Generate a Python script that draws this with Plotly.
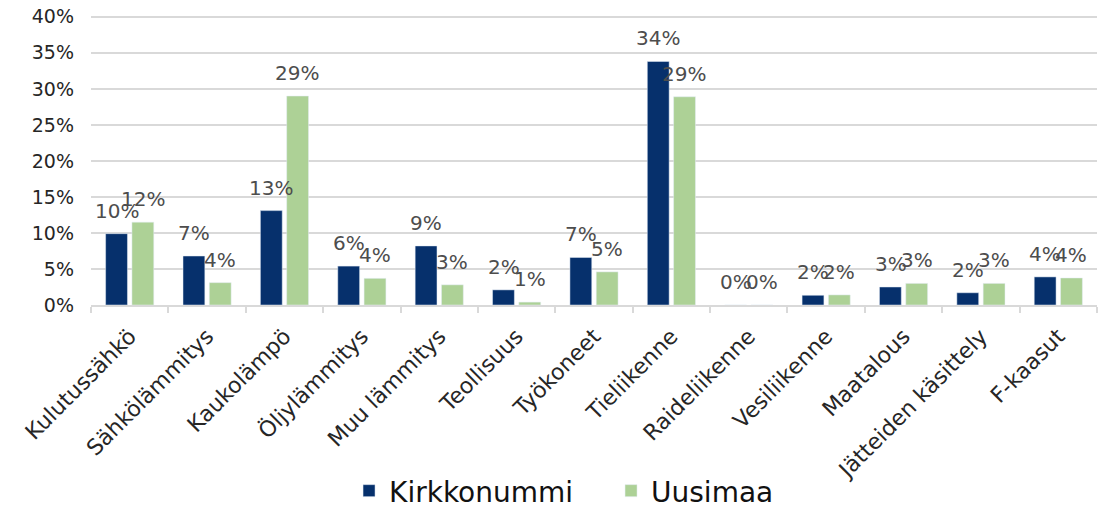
import plotly.graph_objects as go

categories = [
    "Kulutussähkö", "Sähkölämmitys", "Kaukolämpö", "Öljylämmitys",
    "Muu lämmitys", "Teollisuus", "Työkoneet", "Tieliikenne",
    "Raideliikenne", "Vesiliikenne", "Maatalous", "Jätteiden käsittely",
    "F-kaasut",
]
kirkkonummi = [0.099, 0.068, 0.131, 0.054, 0.082, 0.021, 0.066, 0.338,
               0.0, 0.0135, 0.025, 0.017, 0.039]
uusimaa = [0.115, 0.031, 0.290, 0.037, 0.028, 0.004, 0.046, 0.289,
           0.0, 0.014, 0.030, 0.030, 0.0375]
kirkkonummi_labels = ["10%", "7%", "13%", "6%", "9%", "2%", "7%", "34%",
                      "0%", "2%", "3%", "2%", "4%"]
uusimaa_labels = ["12%", "4%", "29%", "4%", "3%", "1%", "5%", "29%",
                  "0%", "2%", "3%", "3%", "4%"]
y_ticks = [0, 0.05, 0.10, 0.15, 0.20, 0.25, 0.30, 0.35, 0.40]

FONT = "DejaVu Sans"
NAVY = "#06306C"
GREEN = "#ADD196"

fig = go.Figure()
fig.add_trace(go.Bar(name="Kirkkonummi", x=categories, y=kirkkonummi,
                     marker_color=NAVY))
fig.add_trace(go.Bar(name="Uusimaa", x=categories, y=uusimaa,
                     marker_color=GREEN))

# data labels, Excel style: centred over each bar, a bit above the top
for vals, labels, shift in [(kirkkonummi, kirkkonummi_labels, -13),
                            (uusimaa, uusimaa_labels, 13)]:
    for c, v, t in zip(categories, vals, labels):
        fig.add_annotation(x=c, y=v, text=t, showarrow=False,
                           xshift=shift, yshift=23, yanchor="middle",
                           font=dict(family=FONT, size=20, color="#4D4D4D"))

# the page body has an 8px margin, so the figure is a bit smaller
fig.update_layout(
    width=1101, height=501,
    margin=dict(l=83, r=12, t=7, b=204, autoexpand=False),
    paper_bgcolor="white", plot_bgcolor="white",
    barmode="group", bargap=0.32, bargroupgap=0.17,
    font=dict(family=FONT, color="#262626"),
    showlegend=True,
    legend=dict(orientation="h", x=0.2565, xanchor="left",
                yref="container", y=0.036, yanchor="middle",
                bgcolor="rgba(0,0,0,0)",
                font=dict(family=FONT, size=28, color="#111111"),
                itemwidth=30, entrywidth=217, traceorder="normal"),
)
# range a little above 40% so the top gridline is still drawn
fig.update_yaxes(range=[0, 0.4025], tickvals=y_ticks, tickformat=".0%",
                 showgrid=True, gridcolor="#D9D9D9", gridwidth=1.5,
                 zeroline=False, showline=False, ticks="",
                 ticklabelstandoff=16, ticklabeloverflow="allow",
                 automargin=False,
                 tickfont=dict(family=FONT, size=19, color="#262626"))
fig.update_xaxes(tickangle=-45, tickson="boundaries", ticks="outside",
                 ticklen=6, tickcolor="#D9D9D9", tickwidth=1.5,
                 showline=True, linecolor="#D9D9D9", linewidth=1.5,
                 showgrid=False, automargin=False, ticklabelstandoff=8,
                 tickfont=dict(family=FONT, size=22, color="#262626"))

fig.write_html("out.html")
